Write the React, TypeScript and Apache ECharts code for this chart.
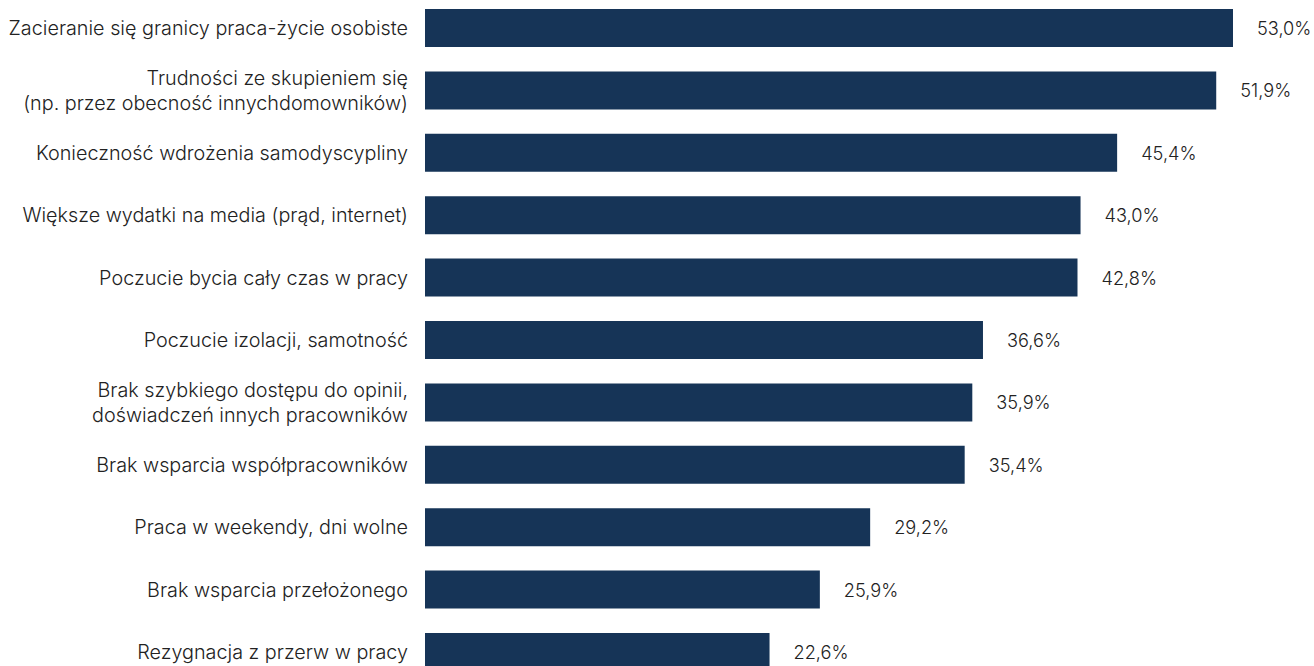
import React, { useEffect, useRef } from "react";
import * as echarts from "echarts";

const categories: string[] = [
  "Zacieranie się granicy praca-życie osobiste",
  "Trudności ze skupieniem się\n(np. przez obecność innychdomowników)",
  "Konieczność wdrożenia samodyscypliny",
  "Większe wydatki na media (prąd, internet)",
  "Poczucie bycia cały czas w pracy",
  "Poczucie izolacji, samotność",
  "Brak szybkiego dostępu do opinii,\ndoświadczeń innych pracowników",
  "Brak wsparcia współpracowników",
  "Praca w weekendy, dni wolne",
  "Brak wsparcia przełożonego",
  "Rezygnacja z przerw w pracy",
];

const values: number[] = [53.0, 51.9, 45.4, 43.0, 42.8, 36.6, 35.9, 35.4, 29.2, 25.9, 22.6];

const FONT = "Inter, 'Noto Sans', sans-serif";

export default function App() {
  const ref = useRef<HTMLDivElement>(null);
  useEffect(() => {
    if (!ref.current) return;
    const chart = echarts.init(ref.current, undefined, { renderer: "svg" });
    chart.setOption({
      animation: false,
      grid: { left: 425, right: 81, top: 0.8, height: 686.4, containLabel: false },
      xAxis: {
        type: "value",
        min: 0,
        max: 53,
        show: false,
      },
      yAxis: {
        type: "category",
        data: categories,
        inverse: true,
        axisLine: { show: false },
        axisTick: { show: false },
        splitLine: { show: false },
        axisLabel: {
          margin: 17,
          color: "#222222",
          fontFamily: FONT,
          fontSize: 19.8,
          fontWeight: 300,
          lineHeight: 25,
          align: "right",
        },
      },
      series: [
        {
          type: "bar",
          data: values,
          barWidth: 38,
          itemStyle: { color: "#163457" },
          label: {
            show: true,
            position: "right",
            distance: 24,
            color: "#222222",
            fontFamily: FONT,
            fontSize: 18.2,
            fontWeight: 300,
            formatter: (p: any) => p.value.toFixed(1).replace(".", ",") + "%",
          },
        },
      ],
    });
    return () => chart.dispose();
  }, []);
  return (
    <div style={{ position: "fixed", left: 0, top: 0, width: 1314, height: 666, overflow: "hidden", background: "#fff" }}>
      <div ref={ref} style={{ position: "absolute", left: 0, top: -4, width: 1314, height: 690 }} />
    </div>
  );
}
